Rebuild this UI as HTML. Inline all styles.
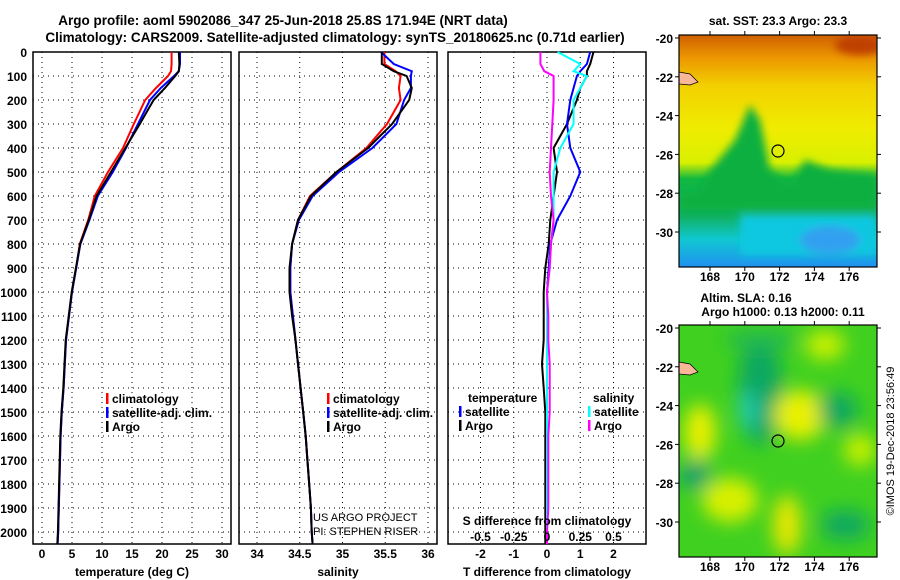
<!DOCTYPE html>
<html><head><meta charset="utf-8">
<style>
body{margin:0;background:#fff;}
svg{display:block;font-family:"Liberation Sans",sans-serif;font-weight:bold;}
</style></head>
<body>
<svg id="c" width="900" height="580" viewBox="0 0 900 580" xmlns="http://www.w3.org/2000/svg">
<defs>
<filter id="bl" x="-20%" y="-20%" width="140%" height="140%"><feGaussianBlur stdDeviation="9"/></filter>
<filter id="bl2" x="-20%" y="-20%" width="140%" height="140%"><feGaussianBlur stdDeviation="4"/></filter>
<clipPath id="cm1"><rect x="679" y="35" width="198" height="232"/></clipPath>
<clipPath id="cm2"><rect x="679" y="325" width="198" height="232"/></clipPath>
<linearGradient id="sst" x1="0" y1="0" x2="0" y2="1">
<stop offset="0" stop-color="#d06000"/><stop offset="0.1" stop-color="#ec9800"/><stop offset="0.22" stop-color="#f2d000"/><stop offset="0.4" stop-color="#f0ec00"/><stop offset="0.55" stop-color="#d8f000"/><stop offset="0.62" stop-color="#10b840"/><stop offset="0.78" stop-color="#10b060"/><stop offset="0.88" stop-color="#10c8d0"/><stop offset="1" stop-color="#2090f0"/>
</linearGradient>
</defs>
<text x="283" y="25" font-size="13.5" text-anchor="middle">Argo profile: aoml 5902086_347 25-Jun-2018 25.8S 171.94E (NRT data)</text>
<text x="335" y="42" font-size="13.5" text-anchor="middle">Climatology: CARS2009. Satellite-adjusted climatology: synTS_20180625.nc (0.71d earlier)</text>
<g id="p1"></g>
<g id="p2"></g>
<g id="p3"></g>
<g id="maps">
<text x="778" y="25" font-size="12" text-anchor="middle">sat. SST: 23.3 Argo: 23.3</text>
<g clip-path="url(#cm1)">
<rect x="679" y="35" width="198" height="232" fill="url(#sst)"/>
<g filter="url(#bl2)">
<path d="M679,195 L700,190 L710,170 L735,140 L750,105 L760,120 L770,170 L790,185 L805,160 L830,170 L877,175 L877,210 L679,210Z" fill="#10b040"/>
<rect x="740" y="215" width="137" height="40" fill="#10c8e0"/>
<ellipse cx="830" cy="240" rx="30" ry="14" fill="#30a0f0"/>
<ellipse cx="860" cy="45" rx="25" ry="10" fill="#c04000"/>
</g>
<path d="M679,72 L690,74 L698,82 L690,85 L679,84Z" fill="#f8b898" stroke="#000" stroke-width="0.7"/>
<circle cx="778" cy="151" r="6" fill="none" stroke="#000" stroke-width="1.2"/>
</g>
<rect x="679" y="35" width="198" height="232" fill="none" stroke="#000" stroke-width="1.2"/>
<text x="746" y="302" font-size="12" text-anchor="middle">Altim. SLA: 0.16</text>
<text x="783" y="316" font-size="12" text-anchor="middle">Argo h1000: 0.13 h2000: 0.11</text>
<g clip-path="url(#cm2)">
<rect x="679" y="325" width="198" height="232" fill="#40d020"/>
<g filter="url(#bl)">
<ellipse cx="760" cy="390" rx="22" ry="55" fill="#10a860"/>
<ellipse cx="748" cy="410" rx="9" ry="20" fill="#20c8b0"/>
<ellipse cx="800" cy="415" rx="26" ry="25" fill="#e8f000"/>
<ellipse cx="700" cy="432" rx="16" ry="28" fill="#e8f000"/>
<ellipse cx="838" cy="410" rx="20" ry="18" fill="#10a860"/>
<ellipse cx="695" cy="475" rx="15" ry="15" fill="#10a070"/>
<ellipse cx="730" cy="500" rx="28" ry="22" fill="#d8f000"/>
<ellipse cx="787" cy="525" rx="14" ry="30" fill="#e8e800"/>
<ellipse cx="845" cy="525" rx="25" ry="15" fill="#10a860"/>
<ellipse cx="860" cy="450" rx="16" ry="16" fill="#c8f000"/>
<ellipse cx="825" cy="345" rx="20" ry="15" fill="#c8f000"/>
<ellipse cx="760" cy="340" rx="35" ry="10" fill="#20b850"/>
</g>
<path d="M679,362 L690,364 L698,372 L690,375 L679,374Z" fill="#f8b898" stroke="#000" stroke-width="0.7"/>
<circle cx="778" cy="441" r="6" fill="none" stroke="#000" stroke-width="1.2"/>
</g>
<rect x="679" y="325" width="198" height="232" fill="none" stroke="#000" stroke-width="1.2"/>
<text transform="translate(894,441) rotate(-90)" font-size="11" font-weight="normal" text-anchor="middle">©IMOS 19-Dec-2018 23:56:49</text>
</g>
</svg>
<script>
const depths=[0,50,80,100,150,200,300,400,500,600,700,800,900,1000,1100,1200,1300,1400,1500,1600,1700,1800,1900,2000,2050];
const tempClim=[21.6,21.6,21.5,21,19,17.2,15.3,13.5,11,8.8,7.7,6.3,5.7,5.0,4.5,4.0,3.8,3.6,3.3,3.1,3.0,2.9,2.8,2.7,2.6];
const tempSat=[23,23,22.8,22,19.8,18,16,14,11.8,9.3,7.9,6.4,5.7,5.0,4.5,4.0,3.8,3.6,3.3,3.1,3.0,2.9,2.8,2.7,2.6];
const tempArgo=[22.8,22.9,22.8,22.2,20.5,18.6,16.3,13.9,11.5,9.1,7.8,6.35,5.65,4.95,4.45,3.95,3.75,3.55,3.25,3.05,2.95,2.85,2.75,2.65,2.55];
const salClim=[35.49,35.49,35.62,35.68,35.66,35.68,35.52,35.28,34.93,34.62,34.48,34.41,34.39,34.39,34.42,34.45,34.48,34.51,34.54,34.57,34.59,34.61,34.63,34.64,34.65];
const salSat=[35.45,35.60,35.81,35.8,35.8,35.72,35.63,35.35,34.96,34.65,34.49,34.41,34.39,34.39,34.42,34.45,34.48,34.51,34.54,34.57,34.59,34.61,34.63,34.64,34.65];
const salArgo=[35.46,35.46,35.6,35.75,35.81,35.78,35.58,35.3,34.93,34.63,34.48,34.41,34.38,34.38,34.41,34.45,34.48,34.51,34.54,34.57,34.59,34.61,34.63,34.64,34.65];
const dTArgo=[1.4,1.3,1.2,1.2,1.0,0.9,0.6,0.2,0.3,0.2,0.1,0.05,-0.05,-0.1,-0.1,-0.1,-0.15,-0.1,-0.05,-0.05,-0.05,-0.05,-0.05,-0.05,-0.05];
const dTSat=[1.3,1.2,1.0,0.9,0.8,0.7,0.6,0.7,1.0,0.7,0.3,0.1,0.05,0,0,0,0,0,0,0,0,0,0,0,0];
const dSSat=[0.08,0.25,0.2,0.3,0.25,0.2,0.2,0.1,0.05,0.05,0.05,0.03,0.02,0,0,0,0,0,0,0,0,0,0,0,0];
const dSArgo=[-0.05,-0.05,-0.02,0.05,0.05,0.05,0.04,0.03,0.02,0.03,0.05,0.03,0.02,0,0.01,0.01,0.02,0.02,0.02,0.01,0.01,0.01,0.01,0,0];
const depthTicks=[0,100,200,300,400,500,600,700,800,900,1000,1100,1200,1300,1400,1500,1600,1700,1800,1900,2000];
const tempTicks=[0,5,10,15,20,25,30];
const salTicks=[34,34.5,35,35.5,36];
const tdTicks=[-2,-1,0,1,2];
const sdTicks=["-0.5","-0.25","0","0.25","0.5"];
const sdTickVals=[-0.5,-0.25,0,0.25,0.5];

const NS="http://www.w3.org/2000/svg";
function mk(t,a,p){const e=document.createElementNS(NS,t);for(const k in a)e.setAttribute(k,a[k]);p.appendChild(e);return e;}
const yD=d=>52+d*0.24;
const TOP=52,BOT=544;
const xT=v=>42+v*6.0;
const xS=v=>257+(v-34)*85.5;
const xTd=v=>547+v*33.25;
const xSd=v=>547+v*133;

function frame(g,x0,x1,vt,vx,labels){
  for(const d of depthTicks){mk('line',{x1:x0,x2:x1,y1:yD(d),y2:yD(d),stroke:'#000','stroke-width':1,'stroke-dasharray':'1,4'},g);}
  vt.forEach((v,i)=>{const x=vx(v);mk('line',{x1:x,x2:x,y1:TOP,y2:BOT,stroke:'#000','stroke-width':1,'stroke-dasharray':'1,4'},g);
    if(labels){const t=mk('text',{x:x,y:558,'font-size':12,'text-anchor':'middle'},g);t.textContent=labels[i];
    
    }});
  const r=mk('rect',{x:x0,y:TOP,width:x1-x0,height:BOT-TOP,fill:'none',stroke:'#000','stroke-width':1.5},g);
  
  
}
function line(g,vals,xf,col,w,name){
  const pts=vals.map((v,i)=>xf(v).toFixed(1)+','+yD(depths[i]).toFixed(1)).join(' ');
  const p=mk('polyline',{points:pts,fill:'none',stroke:col,'stroke-width':w},g);
  
  
}
function txt(g,x,y,s,size,anchor,name,col){const t=mk('text',{x:x,y:y,'font-size':size,'text-anchor':anchor||'start',fill:col||'#000'},g);t.textContent=s;
  
  return t;}
function leg(g,x,y,col,s,name){mk('rect',{x:x,y:y-10,width:2.5,height:11,fill:col},g);txt(g,x+6,y,s,12,'start',name);}

const p1=document.getElementById('p1'),p2=document.getElementById('p2'),p3=document.getElementById('p3');
for(const d of depthTicks){txt(p1,27,yD(d)+5,String(d),12,'end','depth-tick-label');}
frame(p1,33,231,tempTicks,xT,tempTicks.map(String));
line(p1,tempClim,xT,'#f00',2,'temperature-climatology-line');
line(p1,tempSat,xT,'#00f',2,'temperature-satellite-line');
line(p1,tempArgo,xT,'#000',2,'temperature-argo-line');
leg(p1,106,403,'#f00','climatology','legend-climatology');
leg(p1,106,417,'#00f','satellite-adj. clim.','legend-satellite');
leg(p1,106,431,'#000','Argo','legend-argo');
txt(p1,132,576,'temperature (deg C)',12,'middle','temperature-axis-title');

frame(p2,239,437,salTicks,xS,["34","34.5","35","35.5","36"]);
line(p2,salClim,xS,'#f00',2,'salinity-climatology-line');
line(p2,salSat,xS,'#00f',2,'salinity-satellite-line');
line(p2,salArgo,xS,'#000',2,'salinity-argo-line');
leg(p2,327,403,'#f00','climatology','legend-climatology-sal');
leg(p2,327,417,'#00f','satellite-adj. clim.','legend-satellite-sal');
leg(p2,327,431,'#000','Argo','legend-argo-sal');
txt(p2,313,521,'US ARGO PROJECT',11,'start','project-credit').setAttribute('font-weight','normal');
txt(p2,313,535,'PI: STEPHEN RISER',11,'start','pi-credit').setAttribute('font-weight','normal');
txt(p2,338,576,'salinity',12,'middle','salinity-axis-title');

frame(p3,448,646,tdTicks,xTd,tdTicks.map(String));
line(p3,dTArgo,xTd,'#000',2,'temp-diff-argo-line');
line(p3,dTSat,xTd,'#00f',2,'temp-diff-satellite-line');
line(p3,dSSat,xSd,'#0ff',2,'sal-diff-satellite-line');
line(p3,dSArgo,xSd,'#f0f',2,'sal-diff-argo-line');
sdTickVals.forEach((v,i)=>{txt(p3,xSd(v),541,sdTicks[i],12,'middle','s-diff-tick-label');});
txt(p3,547,525,'S difference from climatology',12,'middle','s-diff-axis-title');
txt(p3,547,576,'T difference from climatology',12,'middle','t-diff-axis-title');
txt(p3,468,402,'temperature',12,'start','legend-temperature-header');
leg(p3,459,416,'#00f','satellite','legend-temp-satellite');
leg(p3,459,430,'#000','Argo','legend-temp-argo');
txt(p3,593,402,'salinity',12,'start','legend-salinity-header');
leg(p3,588,416,'#0ff','satellite','legend-sal-satellite');
leg(p3,588,430,'#f0f','Argo','legend-sal-argo');

const lonTicks=[168,170,172,174,176],latTicks=[-20,-22,-24,-26,-28,-30];
const mg=document.getElementById('maps');
const xLon=v=>710+(v-168)*17.4;
[[38,35,267,281],[328,325,557,571]].forEach(([l20,top,bot,ly])=>{
  const yLat=v=>l20+(-20-v)*19.4;
  lonTicks.forEach(v=>{mk('line',{x1:xLon(v),x2:xLon(v),y1:top-4,y2:top,stroke:'#000'},mg);mk('line',{x1:xLon(v),x2:xLon(v),y1:bot,y2:bot+4,stroke:'#000'},mg);
    txt(mg,xLon(v),ly,String(v),12,'middle','lon-tick-label');});
  latTicks.forEach(v=>{mk('line',{x1:675,x2:679,y1:yLat(v),y2:yLat(v),stroke:'#000'},mg);mk('line',{x1:877,x2:881,y1:yLat(v),y2:yLat(v),stroke:'#000'},mg);
    txt(mg,673,yLat(v)+5,String(v),12,'end','lat-tick-label');});
});
</script>
</body></html>
